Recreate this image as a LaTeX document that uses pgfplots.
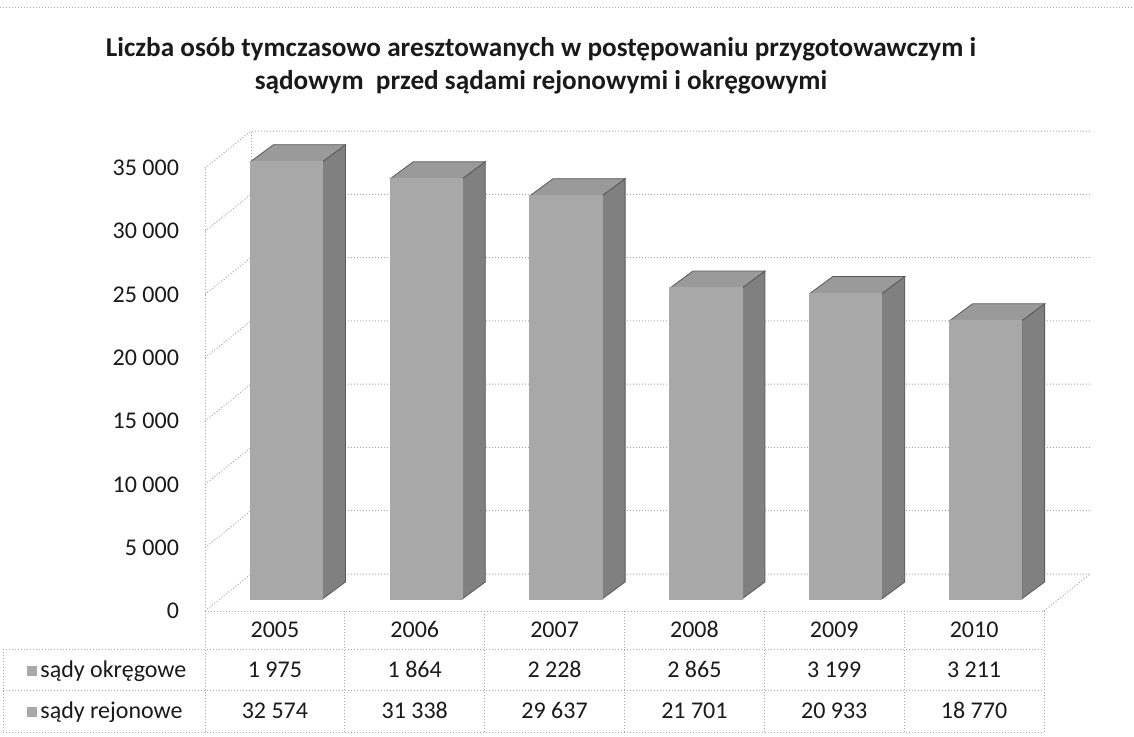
\documentclass[border=0pt]{standalone}
\usepackage{fontspec}
\setmainfont{Carlito}[Numbers=Lining]
\usepackage{pgfplots}
\usepackage{pgfplotstable}
\pgfplotsset{compat=1.18}
\definecolor{barfront}{HTML}{A8A8A8}
\definecolor{barside}{HTML}{808080}
\definecolor{bartop}{HTML}{9A9A9A}
\definecolor{gridc}{HTML}{A8A8A8}
\definecolor{txt}{HTML}{1A1A1A}

\pgfplotstableread{
x okr rej
0 1975 32574
1 1864 31338
2 2228 29637
3 2865 21701
4 3199 20933
5 3211 18770
}\data

\begin{document}
\begin{tikzpicture}
\useasboundingbox (0pt,0pt) rectangle (567pt,368pt);
\pgfplotsset{base/.style={at={(102.5pt,62.5pt)}, anchor=south west, scale only axis,
  width=419.5pt, height=227.5pt, xmin=-0.5, xmax=5.5, ymin=-950, ymax=35000, clip=false,
  scaled y ticks=false}}

% chart border (top)
\draw[gridc, densely dotted, line width=0.5pt] (0pt,364.5pt) -- (567pt,364.5pt);

% title
\node[align=center, text=txt, font=\bfseries\fontsize{13.6}{16.3}\selectfont] at (270.5pt,335pt)
  {Liczba osób tymczasowo aresztowanych w postępowaniu przygotowawczym i\\sądowym \ przed sądami rejonowymi i okręgowymi};

\begin{axis}[base, axis line style={draw=none}, xtick=\empty,
  ytick={0,5000,10000,15000,20000,25000,30000,35000},
  yticklabels={0,{5 000},{10 000},{15 000},{20 000},{25 000},{30 000},{35 000}},
  major tick length=0pt,
  yticklabel style={font=\fontsize{12}{14}\selectfont, text=txt, xshift=-9.5pt, yshift=-6pt}]
  % walls and floor
  \pgfplotsinvokeforeach{-950,4050,9050,14050,19050,24050,29050,34050}{
    \draw[gridc, densely dotted, line width=0.5pt] (axis cs:-0.5,#1) -- ([shift={(23pt,18.5pt)}]axis cs:-0.5,#1) -- ([shift={(23pt,18.5pt)}]axis cs:5.5,#1);
  }
  \draw[gridc, densely dotted, line width=0.5pt] (axis cs:-0.5,-950) -- (axis cs:-0.5,34050);
  \draw[gridc, densely dotted, line width=0.5pt] ([shift={(23pt,18.5pt)}]axis cs:-0.5,-950) -- ([shift={(23pt,18.5pt)}]axis cs:-0.5,34050);
  \draw[gridc, densely dotted, line width=0.5pt] (axis cs:5.5,-950) -- ([shift={(23pt,18.5pt)}]axis cs:5.5,-950);
  % side faces
  \addplot[fill=barside, draw=black!65, line width=0.4pt] coordinates {(0.3398,0) (0.5043,1343) (0.5043,35892) (0.3398,34549)} -- cycle;
  \addplot[fill=barside, draw=black!65, line width=0.4pt] coordinates {(1.3398,0) (1.5043,1343) (1.5043,34545) (1.3398,33202)} -- cycle;
  \addplot[fill=barside, draw=black!65, line width=0.4pt] coordinates {(2.3398,0) (2.5043,1343) (2.5043,33208) (2.3398,31865)} -- cycle;
  \addplot[fill=barside, draw=black!65, line width=0.4pt] coordinates {(3.3398,0) (3.5043,1343) (3.5043,25909) (3.3398,24566)} -- cycle;
  \addplot[fill=barside, draw=black!65, line width=0.4pt] coordinates {(4.3398,0) (4.5043,1343) (4.5043,25475) (4.3398,24132)} -- cycle;
  \addplot[fill=barside, draw=black!65, line width=0.4pt] coordinates {(5.3398,0) (5.5043,1343) (5.5043,23324) (5.3398,21981)} -- cycle;
  % top faces
  \addplot[fill=bartop, draw=black!65, line width=0.4pt] coordinates {(-0.1753,34549) (-0.0108,35892) (0.5043,35892) (0.3398,34549)} -- cycle;
  \addplot[fill=bartop, draw=black!65, line width=0.4pt] coordinates {(0.8247,33202) (0.9892,34545) (1.5043,34545) (1.3398,33202)} -- cycle;
  \addplot[fill=bartop, draw=black!65, line width=0.4pt] coordinates {(1.8247,31865) (1.9892,33208) (2.5043,33208) (2.3398,31865)} -- cycle;
  \addplot[fill=bartop, draw=black!65, line width=0.4pt] coordinates {(2.8247,24566) (2.9892,25909) (3.5043,25909) (3.3398,24566)} -- cycle;
  \addplot[fill=bartop, draw=black!65, line width=0.4pt] coordinates {(3.8247,24132) (3.9892,25475) (4.5043,25475) (4.3398,24132)} -- cycle;
  \addplot[fill=bartop, draw=black!65, line width=0.4pt] coordinates {(4.8247,21981) (4.9892,23324) (5.5043,23324) (5.3398,21981)} -- cycle;
\end{axis}

\begin{axis}[base, hide axis, ybar stacked, bar width=36pt, bar shift=5.75pt]
  \addplot[fill=barfront, draw=barfront, line width=0.6pt] table[x=x, y=okr] {\data};
  \addplot[fill=barfront, draw=barfront, line width=0.6pt] table[x=x, y=rej] {\data};
\end{axis}

% data table
\begin{scope}[gridc, densely dotted, line width=0.5pt]
  \draw (102.5pt,62.5pt) -- (522pt,62.5pt);
  \draw (1.5pt,43.5pt) -- (522pt,43.5pt);
  \draw (1.5pt,23pt) -- (522pt,23pt);
  \draw (1.5pt,2pt) -- (522pt,2pt);
  \draw (1.5pt,43.5pt) -- (1.5pt,2pt);
  \foreach \k in {0,...,6} \draw ({102.5pt+69.9167pt*\k},62.5pt) -- ({102.5pt+69.9167pt*\k},2pt);
\end{scope}
\begin{scope}[every node/.style={text=txt, font=\fontsize{12}{14}\selectfont, anchor=base}]
  \foreach \t [count=\i from 0] in {2005,2006,2007,2008,2009,2010}
    \node at ({102.5pt+69.9167pt*(\i+0.5)},49.2pt) {\t};
  \foreach \t [count=\i from 0] in {1 975,1 864,2 228,2 865,3 199,3 211}
    \node at ({102.5pt+69.9167pt*(\i+0.5)},29.2pt) {\t};
  \foreach \t [count=\i from 0] in {32 574,31 338,29 637,21 701,20 933,18 770}
    \node at ({102.5pt+69.9167pt*(\i+0.5)},8.7pt) {\t};
  \fill[barfront] (13.5pt,30pt) rectangle +(5pt,5pt);
  \fill[barfront] (13.5pt,9.5pt) rectangle +(5pt,5pt);
  \node[anchor=base west, inner sep=0pt] at (20pt,29.2pt) {sądy okręgowe};
  \node[anchor=base west, inner sep=0pt] at (20pt,8.7pt) {sądy rejonowe};
\end{scope}
\end{tikzpicture}
\end{document}
